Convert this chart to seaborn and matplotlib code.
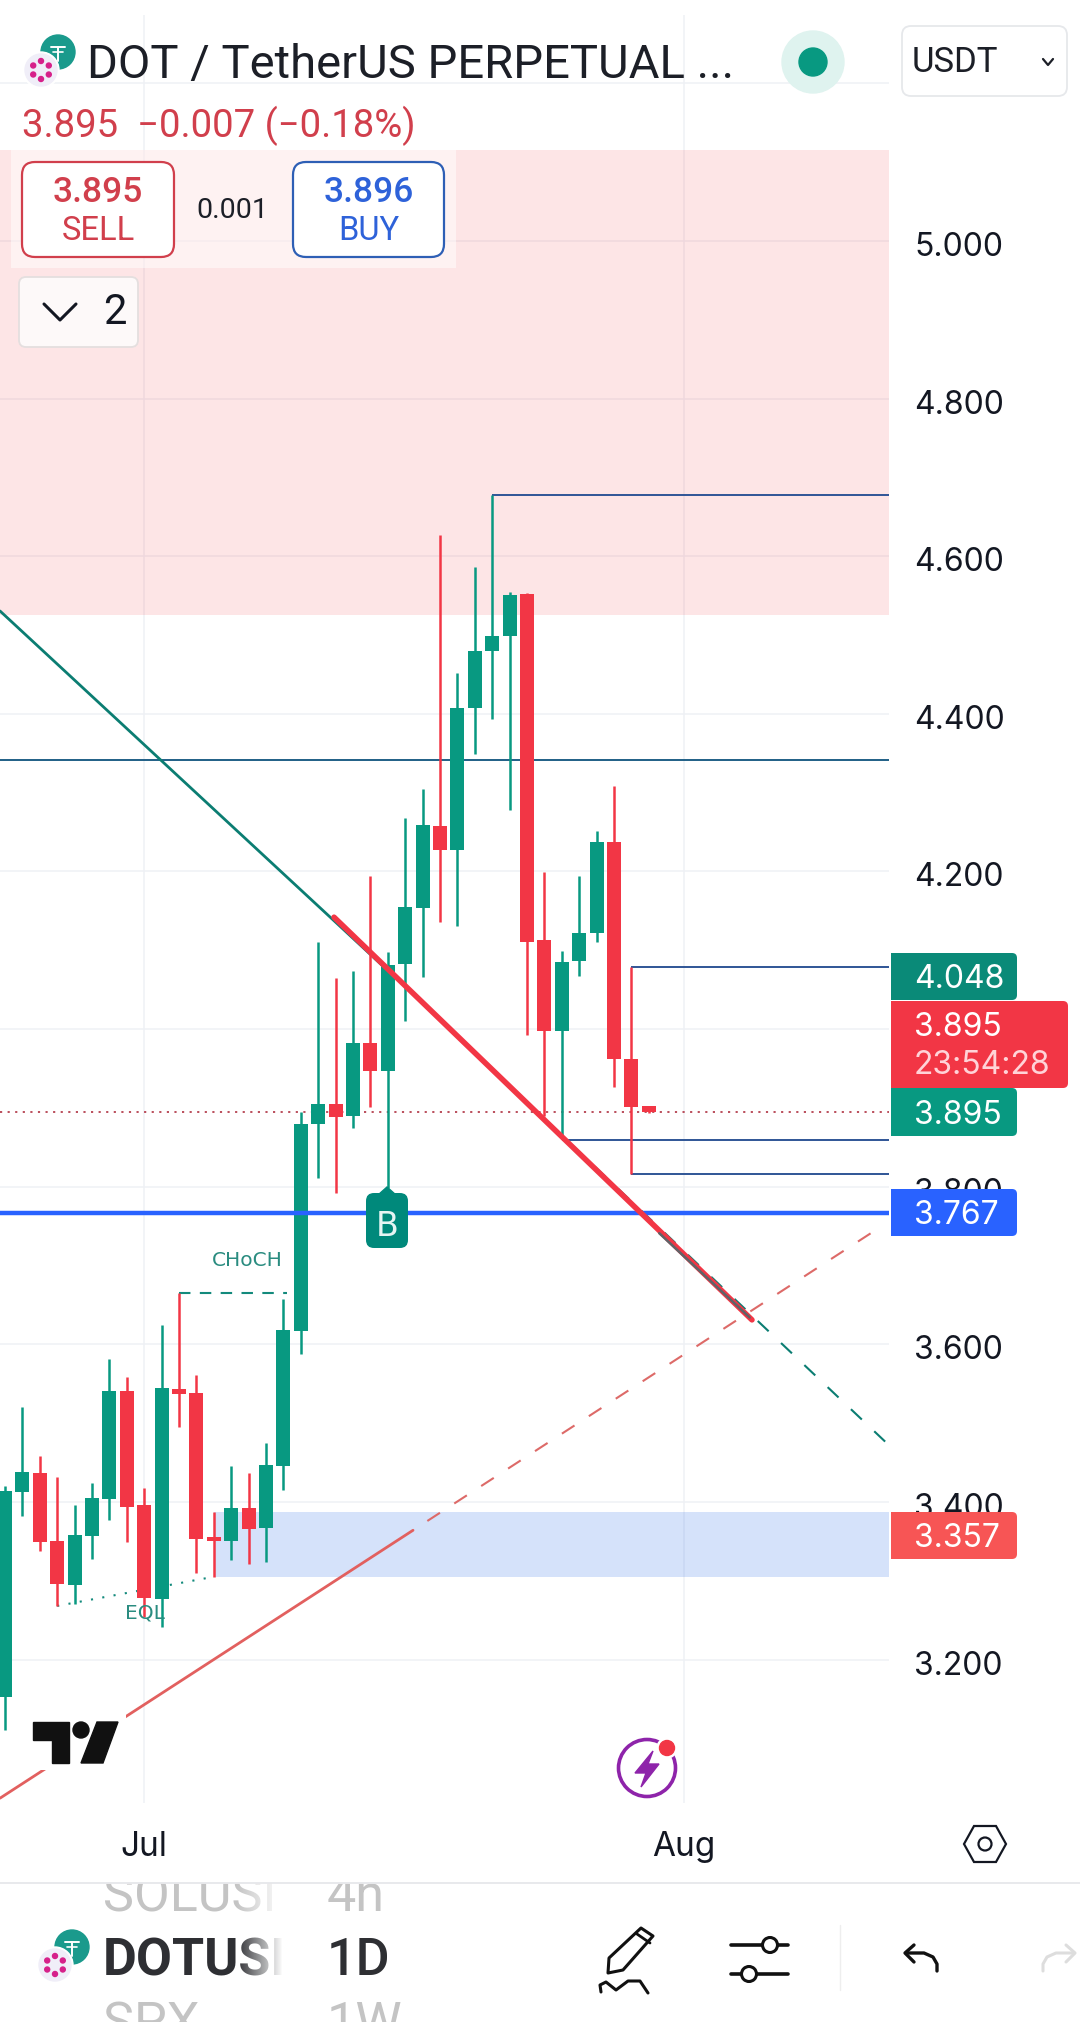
import matplotlib
matplotlib.use('Agg')
import matplotlib.pyplot as plt
import numpy as np
import pandas as pd
import seaborn as sns
from matplotlib.patches import Circle, FancyBboxPatch, Polygon, Rectangle
from matplotlib.transforms import ScaledTranslation

# daily candles, day 0 is 23 Jun
days = list(range(38))
opens = [3.152, 3.412, 3.437, 3.350, 3.295, 3.357, 3.404, 3.541, 3.396, 3.277,
         3.543, 3.538, 3.3555, 3.351, 3.392, 3.367, 3.445, 3.617, 3.879, 3.905,
         3.890, 3.9825, 3.947, 4.082, 4.154, 4.2575, 4.227, 4.407, 4.480, 4.499,
         4.552, 4.113, 3.998, 4.086, 4.1215, 4.238, 3.962, 3.902]
highs = [3.420, 3.520, 3.458, 3.432, 3.396, 3.424, 3.581, 3.5585, 3.418, 3.6245,
         3.6655, 3.561, 3.387, 3.4455, 3.437, 3.475, 3.657, 3.895, 4.1105, 4.065,
         4.0735, 4.194, 4.0975, 4.268, 4.305, 4.627, 4.452, 4.587, 4.678, 4.555,
         4.553, 4.199, 4.099, 4.194, 4.251, 4.3085, 4.079, 3.903]
lows = [3.1105, 3.3825, 3.338, 3.268, 3.271, 3.328, 3.3775, 3.3495, 3.254, 3.241,
        3.4955, 3.310, 3.305, 3.326, 3.321, 3.324, 3.415, 3.588, 3.8115, 3.792,
        3.875, 3.901, 3.798, 4.010, 4.0655, 4.136, 4.131, 4.3485, 4.394, 4.278,
        3.992, 3.890, 3.866, 4.067, 4.111, 3.927, 3.816, 3.894]
closes = [3.414, 3.438, 3.3495, 3.296, 3.358, 3.405, 3.541, 3.394, 3.2785, 3.5445,
          3.537, 3.353, 3.351, 3.392, 3.366, 3.447, 3.618, 3.880, 3.905, 3.889,
          3.9825, 3.947, 4.0815, 4.155, 4.259, 4.227, 4.408, 4.4795, 4.4985, 4.551,
          4.111, 3.998, 4.085, 4.122, 4.238, 3.962, 3.901, 3.895]

month_days = [8, 39]
month_labels = ['Jul', 'Aug']
price_ticks = [3.2, 3.4, 3.6, 3.8, 4.0, 4.2, 4.4, 4.6, 4.8, 5.0, 5.2]
# 4.000 sits under the red tag and 5.200 under the header
price_labels = ['3.200', '3.400', '3.600', '3.800', '', '4.200', '4.400',
                '4.600', '4.800', '5.000', '']

# drawings on the chart, in (day, price)
teal_solid_days, teal_solid_prices = [-0.287, 21.84], [4.5306, 4.0775]
teal_dash_days, teal_dash_prices = [21.84, 50.8], [4.0775, 3.472]
red_thick_days, red_thick_prices = [18.91, 42.93], [4.142, 3.631]
gray_days, gray_prices = [37.6, 42.8], [3.741, 3.634]
support_solid_days, support_solid_prices = [-0.287, 23.45], [3.024, 3.364]
support_dash_days, support_dash_prices = [23.45, 50.46], [3.364, 3.751]
choch_days, choch_prices = [10, 16.2], [3.665, 3.665]
eql_days, eql_prices = [3, 12], [3.268, 3.305]

level_starts = [28, 36, 32, 36]
level_prices = [4.678, 4.079, 3.859, 3.816]
long_level = 4.3415
blue_level = 3.766
last_price = 3.895
supply_zone = (4.5255, 5.1156)
demand_zone = (3.305, 3.387)
demand_start = 12

GREEN = '#089981'
RED = '#f23645'
BLUE = '#2962ff'
DARK = '#131722'

sns.set_theme(style='white')
plt.rcParams['font.family'] = ['Roboto', 'DejaVu Sans']

df = pd.DataFrame({'day': days, 'open': opens, 'high': highs, 'low': lows, 'close': closes})
df['color'] = np.where(df['close'] >= df['open'], GREEN, RED)

fig = plt.figure(figsize=(10.8, 20.22), dpi=100, facecolor='white')
ax = fig.add_axes([0, (2022 - 1803) / 2022, 889 / 1080, (1803 - 15) / 2022])
ax.set_xlim(-0.287, 50.805)
ax.set_ylim(3.0179, 5.2869)
ax.set_axisbelow(True)
ax.grid(True, color='#eff1f5', linewidth=1.1)
sns.despine(ax=ax, left=True, bottom=True, right=True, top=True)

ax.axhspan(*supply_zone, color=RED, alpha=0.13, linewidth=0, zorder=1)
ax.fill_between([demand_start, 50.805], demand_zone[0], demand_zone[1],
                color='#2f6fe8', alpha=0.2, linewidth=0, zorder=1)

# horizontal levels
ax.axhline(long_level, color='#1f5f86', linewidth=1.4, zorder=1.5)
ax.axhline(last_price, color='#b5414f', linewidth=1.3, linestyle=(0, (1.2, 3)), zorder=1.5)
ax.hlines(level_prices, level_starts, 50.805, color='#2f5596', linewidth=1.4, zorder=1.5)

# candles
ax.vlines(df['day'], df['low'], df['high'], colors=df['color'], linewidth=1.8, zorder=3)
ax.bar(df['day'], (df['close'] - df['open']).abs(), bottom=df[['open', 'close']].min(axis=1),
       width=0.8, color=df['color'], linewidth=0, zorder=3.2)
ax.axhline(blue_level, color=BLUE, linewidth=3.2, zorder=3.5)

# trend lines
sns.lineplot(x=teal_solid_days, y=teal_solid_prices, ax=ax, color='#0b7d72', linewidth=2, zorder=2.5)
sns.lineplot(x=teal_dash_days, y=teal_dash_prices, ax=ax, color='#0b7d72', linewidth=1.5,
             linestyle=(0, (7.2, 8.2)), zorder=2.5)
sns.lineplot(x=support_solid_days, y=support_solid_prices, ax=ax, color='#e2605f', linewidth=2, zorder=2.5)
sns.lineplot(x=support_dash_days, y=support_dash_prices, ax=ax, color='#dd6a68', linewidth=1.5,
             linestyle=(7.2, (7.2, 8.2)), zorder=2.5)
sns.lineplot(x=red_thick_days, y=red_thick_prices, ax=ax, color=RED, linewidth=4, zorder=4,
             solid_capstyle='round')
sns.lineplot(x=gray_days, y=gray_prices, ax=ax, color='#5f6368', linewidth=1.8, zorder=4.1)
sns.lineplot(x=choch_days, y=choch_prices, ax=ax, color='#138a7c', linewidth=1.5,
             linestyle=(0, (5.5, 4.5)), zorder=2.5)
sns.lineplot(x=eql_days, y=eql_prices, ax=ax, color='#138a7c', linewidth=1.5,
             linestyle=(0, (1, 4.5)), zorder=2.8)

ax.yaxis.tick_right()
ax.set_yticks(price_ticks, price_labels, fontfamily='Inter', fontsize=23, color=DARK)
ax.set_xticks(month_days, month_labels, fontfamily='Inter', fontsize=24, color=DARK)
ax.tick_params(axis='y', length=0, pad=18)
ax.tick_params(axis='x', length=0, pad=20)
ax.set_xlabel('')
ax.set_ylabel('')
nudge = ScaledTranslation(0, -0.03, fig.dpi_scale_trans)
for t in ax.get_yticklabels():
    t.set_transform(t.get_transform() + nudge)

ax.annotate('CHoCH', (13.9, 3.665), xytext=(0, 16.5), textcoords='offset points', ha='center',
            va='bottom', fontsize=14.5, color='#2a8c80', fontfamily='DejaVu Sans')
ax.annotate('EQL', (8.05, 3.28), xytext=(0, -5), textcoords='offset points', ha='center',
            va='top', fontsize=14.5, color='#2a8c80', fontfamily='DejaVu Sans', zorder=5)

# app chrome drawn on top, in pixels
ui = fig.add_axes([0, 0, 1, 1], zorder=5)
ui.set_xlim(0, 1080)
ui.set_ylim(2022, 0)
ui.axis('off')
ui.patch.set_alpha(0)


def box(x0, y0, x1, y1, r, face, edge='none', lw=0.0, alpha=None, z=2):
    p = FancyBboxPatch((x0 + r, y0 + r), x1 - x0 - 2 * r, y1 - y0 - 2 * r,
                       boxstyle=f'round,pad={r},rounding_size={r}', facecolor=face,
                       edgecolor=edge, linewidth=lw, alpha=alpha, zorder=z)
    ui.add_patch(p)


def label(x, y, s, size, color=DARK, ha='left', family='Roboto', weight='normal', z=6):
    ui.text(x, y, s, fontsize=size, color=color, ha=ha, va='center', family=family,
            weight=weight, zorder=z)


def stroke(xs, ys, color=DARK, lw=2.0, z=6):
    ui.plot(xs, ys, color=color, linewidth=lw, solid_capstyle='round', solid_joinstyle='round', zorder=z)


def coin_icon(x, y):
    ui.add_patch(Circle((x, y), 17, color='#1a9a8c', zorder=3))
    stroke([x - 7, x + 7], [y - 5, y - 5], 'white', 1.4, 3.1)
    stroke([x - 5, x + 5], [y, y], 'white', 1.2, 3.1)
    stroke([x, x], [y - 5, y + 9], 'white', 1.4, 3.1)
    px, py = x - 17, y + 18
    ui.add_patch(Circle((px, py), 18, color='white', zorder=3.2))
    ui.add_patch(Circle((px, py), 16, color='#f0eef8', zorder=3.3))
    for a in np.deg2rad(np.arange(30, 390, 60)):
        ui.add_patch(Circle((px + 9 * np.cos(a), py + 9 * np.sin(a)), 2.5, color='#d6218a', zorder=3.4))


# header
coin_icon(58, 52)
label(87, 65, 'DOT / TetherUS PERPETUAL ...', 34, '#1c1f27')
ui.add_patch(Circle((813, 62), 31, color='#dff3ef', zorder=3))
ui.add_patch(Circle((813, 62), 14, color=GREEN, zorder=3.1))
box(902, 26, 1067, 96, 9, 'white', '#e6e8eb', 1.3)
label(912, 63, 'USDT', 25, '#1c1f27')
stroke([1043, 1048, 1053], [59, 65, 59], '#1c1f27', 1.6)
label(22, 126, '3.895  \u22120.007 (\u22120.18%)', 27.5, '#d13f4c')

# order buttons
ui.add_patch(Rectangle((11, 150), 445, 118, color='white', alpha=0.5, linewidth=0, zorder=1.5))
box(22, 162, 174, 257, 13, 'white', '#d13f4c', 1.6)
label(98, 192, '3.895', 25.5, '#d13f4c', 'center', weight='medium')
label(98, 231, 'SELL', 23.5, '#d13f4c', 'center')
label(232, 210, '0.001', 20.5, '#1c1f27', 'center')
box(293, 162, 444, 257, 13, 'white', '#2e5fb5', 1.6)
label(369, 192, '3.896', 25.5, '#2e62d9', 'center', weight='medium')
label(369, 231, 'BUY', 23.5, '#2e62d9', 'center')
box(19, 277, 138, 347, 7, '#fdf9f9', '#e4dfdf', 1.3)
stroke([44, 60, 76], [304, 320, 304], DARK, 2.2)
label(115, 313, '2', 30, DARK, 'center')

# price tags on the scale
tags = [(953, 1000, 1017, '#0a8a78', '4.048'), (1088, 1136, 1017, GREEN, '3.895'),
        (1189, 1236, 1017, BLUE, '3.767'), (1512, 1559, 1017, '#f75555', '3.357')]
for y0, y1, x1, col, txt in tags:
    box(891, y0, x1, y1, 5, col)
    ui.add_patch(Rectangle((891, y0), 8, y1 - y0, color=col, linewidth=0, zorder=2))
    label(914, (y0 + y1) / 2 + 3, txt, 23, 'white', family='Inter')
box(891, 1001, 1068, 1088, 5, RED)
ui.add_patch(Rectangle((891, 1001), 8, 87, color=RED, linewidth=0, zorder=2))
label(914, 1028, '3.895', 23, 'white', family='Inter')
label(914, 1066, '23:54:28', 23, '#ffd3d8', family='Inter')

# buy marker
box(366, 1193, 408, 1248, 8, '#00897b', z=4)
ui.add_patch(Polygon([(378, 1195), (387, 1187), (396, 1195)], color='#00897b', zorder=4))
label(387, 1226, 'B', 24, '#e6f5f3', 'center', family='DejaVu Sans')

# tradingview logo
ui.add_patch(Rectangle((26, 1714), 100, 56, color='white', linewidth=0, zorder=3))
ui.add_patch(Polygon([(33, 1722), (69, 1722), (69, 1763), (52, 1763), (52, 1740), (33, 1740)],
                     color='#111111', zorder=3.1))
ui.add_patch(Circle((81, 1730), 8, color='#111111', zorder=3.1))
ui.add_patch(Polygon([(97, 1722), (118, 1722), (103, 1763), (81, 1763)], color='#111111', zorder=3.1))

# lightning badge
ui.add_patch(Circle((647, 1768), 28.5, facecolor='white', edgecolor='#8e24aa', linewidth=2.6, zorder=3))
ui.add_patch(Polygon([(653, 1751), (635, 1773), (646, 1773), (641, 1787), (659, 1764), (648, 1764)],
                     color='#8e24aa', zorder=3.1))
ui.add_patch(Circle((667, 1748), 10, color='white', zorder=3.2))
ui.add_patch(Circle((667, 1748), 7.5, color=RED, zorder=3.3))

# settings hexagon
ui.add_patch(Polygon([(964, 1844), (974, 1826), (996, 1826), (1006, 1844), (996, 1862), (974, 1862)],
                     fill=False, edgecolor=DARK, linewidth=1.6, zorder=3))
ui.add_patch(Circle((985, 1844), 6.5, fill=False, edgecolor=DARK, linewidth=1.6, zorder=3))

# bottom toolbar
stroke([0, 1080], [1883, 1883], '#e8e9ec', 1.4, 8)
label(103, 1897, 'SOLUSI', 37.5, '#c4c4c4', z=2)
label(327, 1897, '4h', 37.5, '#c4c4c4', z=2)
ui.add_patch(Rectangle((0, 1864), 1080, 19, color='white', linewidth=0, zorder=2.5))
coin_icon(72, 1947)
label(103, 1961, 'DOTUSI', 37.5, '#2e2f33', weight='bold', z=2)
label(327, 1961, '1D', 37.5, '#2e2f33', weight='medium', z=2)
label(103, 2025, 'SPX', 37.5, '#c4c4c4', z=2)
label(327, 2025, '1W', 37.5, '#c4c4c4', z=2)

fade = np.ones((1, 60, 4))
fade[0, :, 3] = np.linspace(0, 1, 60)
ui.imshow(fade, extent=(236, 283, 2022, 1884), aspect='auto', zorder=2.8)
ui.add_patch(Rectangle((283, 1884), 40, 138, color='white', linewidth=0, zorder=2.8))
ui.set_xlim(0, 1080)
ui.set_ylim(2022, 0)

# pencil, sliders, undo, redo
ui.add_patch(Polygon([(641, 1928), (653, 1936), (623, 1970), (608, 1973), (609, 1958)],
                     facecolor='white', edgecolor='#111111', linewidth=2.2, joinstyle='round', zorder=5))
stroke([637, 650], [1934, 1943], '#111111', 2)
stroke([601, 600, 606, 616, 628, 640, 648], [1992, 1985, 1982, 1990, 1981, 1981, 1993], '#111111', 2.2)
stroke([731, 788], [1945, 1945], '#111111', 2.6)
stroke([731, 788], [1974, 1974], '#111111', 2.6)
ui.add_patch(Circle((770, 1945), 7.5, facecolor='white', edgecolor='#111111', linewidth=2.2, zorder=6.5))
ui.add_patch(Circle((749, 1974), 7.5, facecolor='white', edgecolor='#111111', linewidth=2.2, zorder=6.5))
stroke([840, 840], [1925, 1990], '#eeeeee', 1)
stroke([937, 937, 933, 924, 906], [1971, 1964, 1957, 1953, 1953], '#111111', 2.4)
stroke([914, 905, 914], [1945, 1953, 1962], '#111111', 2.4)
stroke([1043, 1043, 1047, 1056, 1074], [1971, 1964, 1957, 1953, 1953], '#dddddd', 2.2)
stroke([1066, 1075, 1066], [1945, 1953, 1962], '#dddddd', 2.2)

fig.savefig('out.png', dpi=100, facecolor='white')
